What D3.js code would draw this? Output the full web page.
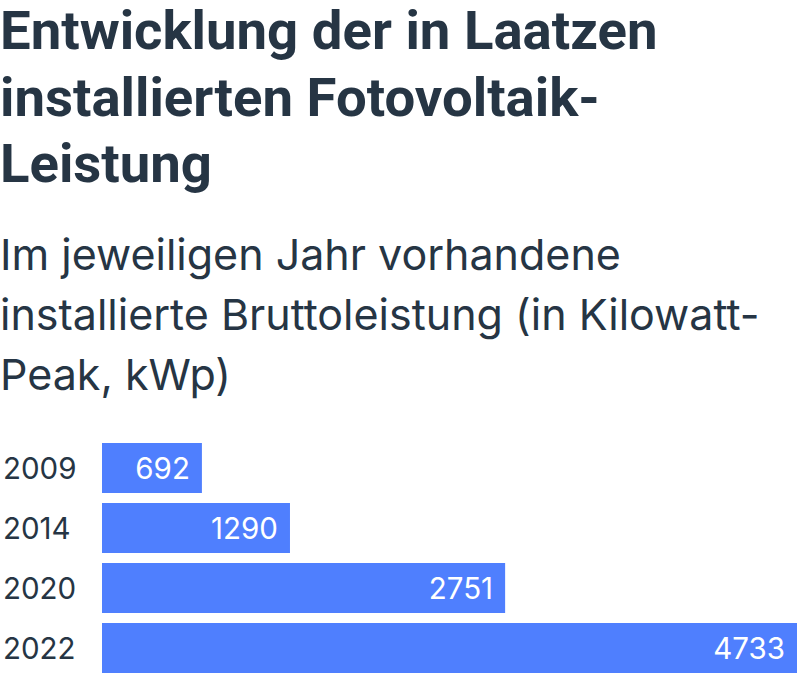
<!DOCTYPE html>
<html lang="de">
<head>
    <meta charset="UTF-8">
    <title>Fotovoltaik Laatzen</title>
    <script src="https://d3js.org/d3.v7.min.js"></script>
    <style>
        html, body{
            margin:0;
            background:#fff;
        }
        .title{
            font-family: Roboto, sans-serif;
            font-weight: 700;
            fill: #263544;
        }
        .subtitle{
            font-family: Inter, sans-serif;
            fill: #263544;
        }
        .year{
            font-family: Inter, sans-serif;
            fill: #263544;
        }
        .val{
            font-family: Inter, sans-serif;
            fill: #fff;
        }
    </style>
</head>
<body>
<div id="chart"></div>
<script>
    var titleLines = ["Entwicklung der in Laatzen", "installierten Fotovoltaik-", "Leistung"];
    var subtitleLines = ["Im jeweiligen Jahr vorhandene", "installierte Bruttoleistung (in Kilowatt-", "Peak, kWp)"];
    var years = ["2009", "2014", "2020", "2022"];
    var values = [692, 1290, 2751, 4733];

    var width = 800, height = 695;

    var svg = d3.select("#chart").append("svg")
        .attr("width", width)
        .attr("height", height);

    // title
    svg.append("text")
        .attr("class", "title")
        .attr("font-size", 54.5)
        .selectAll("tspan")
        .data(titleLines)
        .enter().append("tspan")
        .attr("x", 0)
        .attr("y", function(d, i) { return 49 + i * 66.5; })
        .text(function(d) { return d; });

    // subtitle
    svg.append("text")
        .attr("class", "subtitle")
        .attr("font-size", 43)
        .selectAll("tspan")
        .data(subtitleLines)
        .enter().append("tspan")
        .attr("x", 0)
        .attr("y", function(d, i) { return 270 + i * 60; })
        .text(function(d) { return d; });

    var xScale = d3.scaleLinear()
        .domain([0, d3.max(values)])
        .range([100, 797]);

    var yScale = d3.scaleBand()
        .domain(years)
        .range([443, 673])
        .paddingInner(10 / 60)
        .paddingOuter(0);

    var rows = svg.append("g").selectAll("g")
        .data(years)
        .enter().append("g");

    // bars start a little right of the scale origin
    rows.append("rect")
        .attr("x", xScale(0) + 2)
        .attr("y", function(d) { return yScale(d); })
        .attr("width", function(d, i) { return xScale(values[i]) - xScale(0) - 2; })
        .attr("height", yScale.bandwidth())
        .attr("fill", "#4f7ffe");

    rows.append("text")
        .attr("class", "year")
        .attr("font-size", 29.5)
        .attr("x", 3)
        .attr("y", function(d) { return yScale(d) + yScale.bandwidth() / 2; })
        .attr("dy", "0.36em")
        .text(function(d) { return d; });

    rows.append("text")
        .attr("class", "val")
        .attr("font-size", 29.5)
        .attr("text-anchor", "end")
        .attr("x", function(d, i) { return xScale(values[i]) - 12; })
        .attr("y", function(d) { return yScale(d) + yScale.bandwidth() / 2; })
        .attr("dy", "0.36em")
        .text(function(d, i) { return values[i]; });
</script>
</body>
</html>
